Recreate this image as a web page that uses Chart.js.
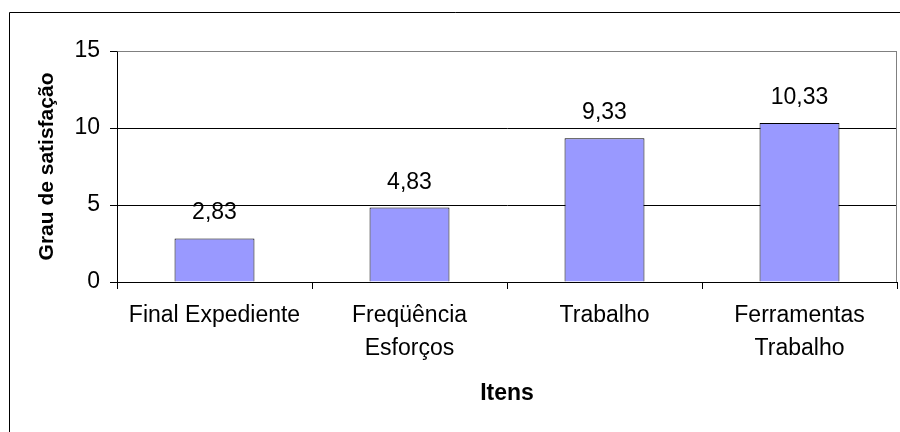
<!DOCTYPE html>
<html>
<head>
<meta charset="utf-8">
<script src="https://cdn.jsdelivr.net/npm/chart.js@4.4.0/dist/chart.umd.min.js"></script>
<style>
  html, body { margin: 0; padding: 0; background: #ffffff; }
  #wrap { width: 900px; height: 432px; position: relative; }
</style>
</head>
<body>
<div id="wrap"><canvas id="c" width="900" height="432"></canvas></div>
<script>
const categories = [
  "Final Expediente",
  ["Freqüência", "Esforços"],
  "Trabalho",
  ["Ferramentas", "Trabalho"]
];
const values = [2.83, 4.83, 9.33, 10.33];
const yTicks = [0, 5, 10, 15];
const yTitle = "Grau de satisfação";
const xTitle = "Itens";

const FONT = "'Liberation Sans', Arial, sans-serif";

const framePlugin = {
  id: 'frame',
  beforeDraw(chart) {
    const ctx = chart.ctx;
    ctx.save();
    ctx.fillStyle = '#ffffff';
    ctx.fillRect(0, 0, chart.width, chart.height);
    ctx.strokeStyle = '#000000';
    ctx.lineWidth = 1;
    ctx.beginPath();
    ctx.moveTo(9.5, chart.height + 5);
    ctx.lineTo(9.5, 12.5);
    ctx.lineTo(chart.width + 5, 12.5);
    ctx.stroke();
    ctx.restore();
  },
  afterDraw(chart) {
    const a = chart.chartArea;
    const ctx = chart.ctx;
    ctx.save();
    ctx.strokeStyle = '#808080';
    ctx.lineWidth = 1;
    ctx.beginPath();
    ctx.moveTo(Math.round(a.left) + 0.5, Math.round(a.top) + 0.5);
    ctx.lineTo(Math.round(a.right) - 0.5, Math.round(a.top) + 0.5);
    ctx.lineTo(Math.round(a.right) - 0.5, Math.round(a.bottom));
    ctx.stroke();
    ctx.restore();
  }
};

const labelPlugin = {
  id: 'valueLabels',
  afterDatasetsDraw(chart) {
    const ctx = chart.ctx;
    const meta = chart.getDatasetMeta(0);
    ctx.save();
    ctx.fillStyle = '#000000';
    ctx.font = '23px ' + FONT;
    ctx.textAlign = 'center';
    ctx.textBaseline = 'alphabetic';
    meta.data.forEach((bar, i) => {
      const txt = values[i].toFixed(2).replace('.', ',');
      ctx.fillText(txt, bar.x, bar.y - 19);
    });
    ctx.restore();
  }
};

new Chart(document.getElementById('c'), {
  type: 'bar',
  data: {
    labels: categories,
    datasets: [{
      data: values,
      backgroundColor: '#9999FF',
      borderColor: '#000000',
      borderWidth: 1,
      categoryPercentage: 1,
      barPercentage: 0.41
    }]
  },
  options: {
    responsive: false,
    animation: false,
    devicePixelRatio: 1,
    layout: { padding: { top: 51, right: 3, left: 0, bottom: 0 } },
    plugins: { legend: { display: false }, tooltip: { enabled: false } },
    scales: {
      x: {
        offset: true,
        border: { display: true, color: '#000000', width: 1 },
        grid: { display: true, drawOnChartArea: false, drawTicks: true, tickLength: 7, tickColor: '#000000', offset: true },
        ticks: { color: '#000000', padding: 11, maxRotation: 0, autoSkip: false,
                 font: { family: FONT, size: 23, lineHeight: 1.4 } },
        title: { display: true, text: xTitle, color: '#000000', padding: { top: 0, bottom: 25 },
                 font: { family: FONT, size: 23, weight: 'bold', lineHeight: 1.2 } },
        afterFit(scale) { scale.height = 150; }
      },
      y: {
        min: 0, max: 15,
        border: { display: true, color: '#000000', width: 1 },
        grid: {
          color: (c) => (c.tick && c.tick.value === 15) ? '#808080' : '#000000',
          tickColor: '#000000', tickLength: 7, drawTicks: true
        },
        afterBuildTicks(scale) { scale.ticks = yTicks.map(v => ({ value: v })); },
        ticks: { color: '#000000', padding: 10,
                 font: { family: FONT, size: 23, lineHeight: 1.2 } },
        title: { display: true, text: yTitle, color: '#000000', padding: { top: 35, bottom: 0 },
                 font: { family: FONT, size: 21, weight: 'bold', lineHeight: 1.2 } },
        afterFit(scale) { scale.width = 117; }
      }
    }
  },
  plugins: [framePlugin, labelPlugin]
});
</script>
</body>
</html>
